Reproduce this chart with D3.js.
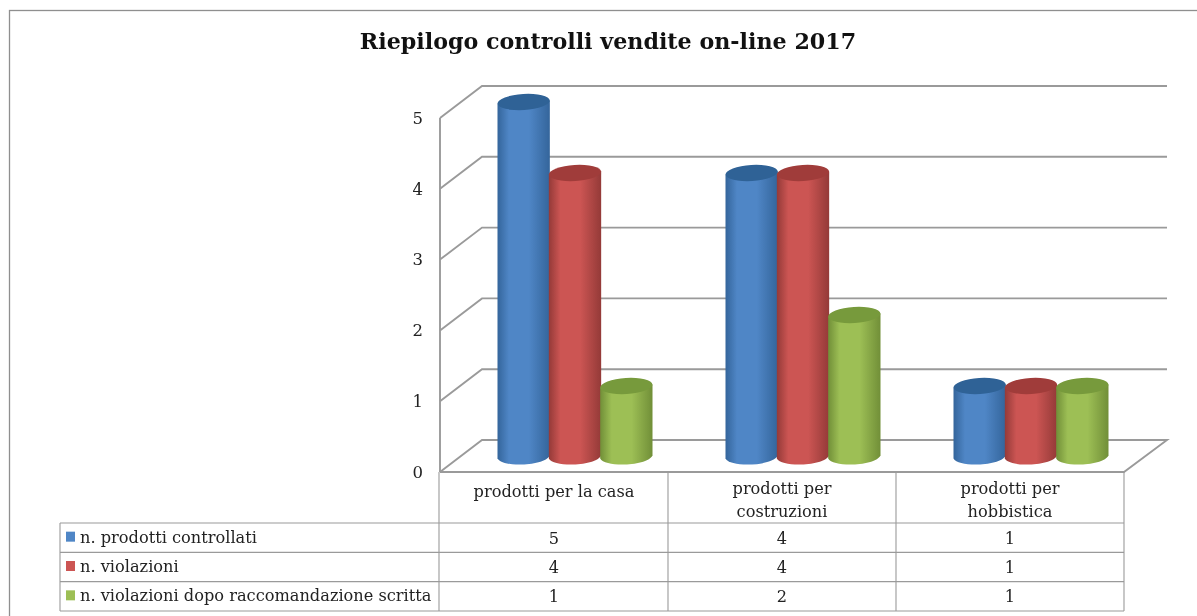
<!DOCTYPE html>
<html><head><meta charset="utf-8">
<script src="https://cdn.jsdelivr.net/npm/d3@7"></script>
<style>html,body{margin:0;background:#fff}svg{display:block}</style>
</head><body><svg id="c" width="1197" height="616"></svg>
<script>
const titleText = "Riepilogo controlli vendite on-line 2017";
const categories = ["prodotti per la casa", "prodotti per costruzioni", "prodotti per hobbistica"];
const categoryLines = [["prodotti per la casa"], ["prodotti per", "costruzioni"], ["prodotti per", "hobbistica"]];
const seriesNames = ["n. prodotti controllati", "n. violazioni", "n. violazioni dopo raccomandazione scritta"];
const prodottiControllati = [5, 4, 1];
const violazioni = [4, 4, 1];
const violazioniDopo = [1, 2, 1];
const yTicks = [0, 1, 2, 3, 4, 5];
const seriesValues = [prodottiControllati, violazioni, violazioniDopo];
const palette = [
  {side:"#34659b", mid:"#4f86c6", top:"#2f6296", name:"b"},
  {side:"#943a38", mid:"#cc5553", top:"#a03c3a", name:"r"},
  {side:"#718f38", mid:"#9dbf55", top:"#779a3c", name:"g"}
];
const font = "'DejaVu Serif', serif";
const ink = "#222", line = "#9a9a9a";

const svg = d3.select("#c");
const defs = svg.append("defs");
palette.forEach(p => {
  const g = defs.append("linearGradient").attr("id","grad-"+p.name);
  [[0,p.side],[0.22,p.mid],[0.6,p.mid],[1,p.side]].forEach(([o,c]) =>
    g.append("stop").attr("offset",o).attr("stop-color",c));
});
const root = svg.append("g").style("filter","blur(0.4px)");

// frame
root.append("rect").attr("x",9.5).attr("y",10.5).attr("width",1200).attr("height",630)
  .attr("fill","#fff").attr("stroke","#8f8f8f").attr("stroke-width",1.3);

root.append("text").attr("x",608).attr("y",49).attr("text-anchor","middle")
  .attr("font-family",font).attr("font-weight","bold").attr("font-size",22.2).attr("fill","#111")
  .text(titleText);

// scales
const yFront = d3.scaleLinear().domain([0,5]).range([472,118]);
const yBack  = d3.scaleLinear().domain([0,5]).range([440,86]);
const yBar   = d3.scaleLinear().domain([0,5]).range([457,102]);
const xCat = d3.scaleBand().domain(categories).range([440,1124]);
const xSeries = d3.scaleBand().domain(seriesNames).range([498,652]);
const offset = i => xCat(categories[i]) - xCat(categories[0]);

// walls
const walls = root.append("g").attr("fill","none").attr("stroke",line).attr("stroke-width",1.9);
yTicks.forEach(t => {
  const pts = [[440,yFront(t)],[482,yBack(t)],[1167,yBack(t)]];
  if (t===0) pts.push([1124,yFront(0)],[440,yFront(0)]);
  walls.append("path").attr("d",d3.line()(pts));
});
walls.append("path").attr("d",d3.line()([[440,yFront(5)],[440,yFront(0)]]));

// y labels
const axis = root.append("g").attr("transform","translate(440,0)")
  .call(d3.axisLeft(yFront).tickValues(yTicks).tickFormat(d3.format("d")).tickSize(0).tickPadding(17));
axis.select(".domain").remove();
axis.selectAll("text").attr("font-family",font).attr("font-size",16.5).attr("fill",ink);

// cylinders
const rx = xSeries.bandwidth()/2 + 0.5, ry = 8, tilt = -3.5;
const marks = root.append("g");
categories.forEach((c,i) => {
  seriesValues.forEach((vals,s) => {
    const cx = xSeries(seriesNames[s]) + xSeries.bandwidth()/2 + offset(i);
    const t = yBar(vals[i]), b = yBar(0);
    const p = palette[s];
    const body = d3.path();
    body.moveTo(cx-rx,t+1.5);
    body.lineTo(cx-rx,b+1.5);
    body.bezierCurveTo(cx-rx+5,b+11, cx+rx-5,b+9, cx+rx,b-1.5);
    body.lineTo(cx+rx,t-1.5);
    body.closePath();
    marks.append("path").attr("d",body.toString()).attr("fill",`url(#grad-${p.name})`);
    marks.append("ellipse").attr("cx",cx).attr("cy",t).attr("rx",rx).attr("ry",ry)
      .attr("transform",`rotate(${tilt} ${cx} ${t})`).attr("fill",p.top);
  });
});

// data table
const rowY = d3.scaleBand().domain(seriesNames).range([523,611]);
const cols = [60,439].concat(categories.map((c,i)=>xCat(c)+xCat.bandwidth()));
const tbl = root.append("g").attr("stroke",line).attr("stroke-width",1.1).attr("fill","none");
[523].concat(seriesNames.map(n=>rowY(n)+rowY.bandwidth())).forEach(y =>
  tbl.append("line").attr("x1",60).attr("x2",1124).attr("y1",y).attr("y2",y));
cols.forEach((x,i) =>
  tbl.append("line").attr("x1",x).attr("x2",x).attr("y1",i===0?523:472).attr("y2",611));

const bodySize = 16.2;
// category labels
categories.forEach((c,i) => {
  const cx = xCat(c)+xCat.bandwidth()/2;
  const lines = categoryLines[i];
  lines.forEach((l,k) => root.append("text").attr("x",cx)
    .attr("y",(lines.length===1?497:494)+k*22.5)
    .attr("text-anchor","middle").attr("font-family",font).attr("font-size",bodySize)
    .attr("fill",ink).text(l));
});

// rows
seriesNames.forEach((n,s) => {
  const y = rowY(n), h = rowY.bandwidth();
  root.append("rect").attr("x",66).attr("y",y+h/2-6).attr("width",9).attr("height",10)
    .attr("fill",palette[s].mid);
  root.append("text").attr("x",80).attr("y",y+h/2+5)
    .attr("font-family",font).attr("font-size",bodySize).attr("fill",ink).text(n);
  categories.forEach((c,i) => root.append("text")
    .attr("x",xCat(c)+xCat.bandwidth()/2).attr("y",y+h/2+6)
    .attr("text-anchor","middle").attr("font-family",font).attr("font-size",bodySize)
    .attr("fill",ink).text(seriesValues[s][i]));
});
</script></body></html>
